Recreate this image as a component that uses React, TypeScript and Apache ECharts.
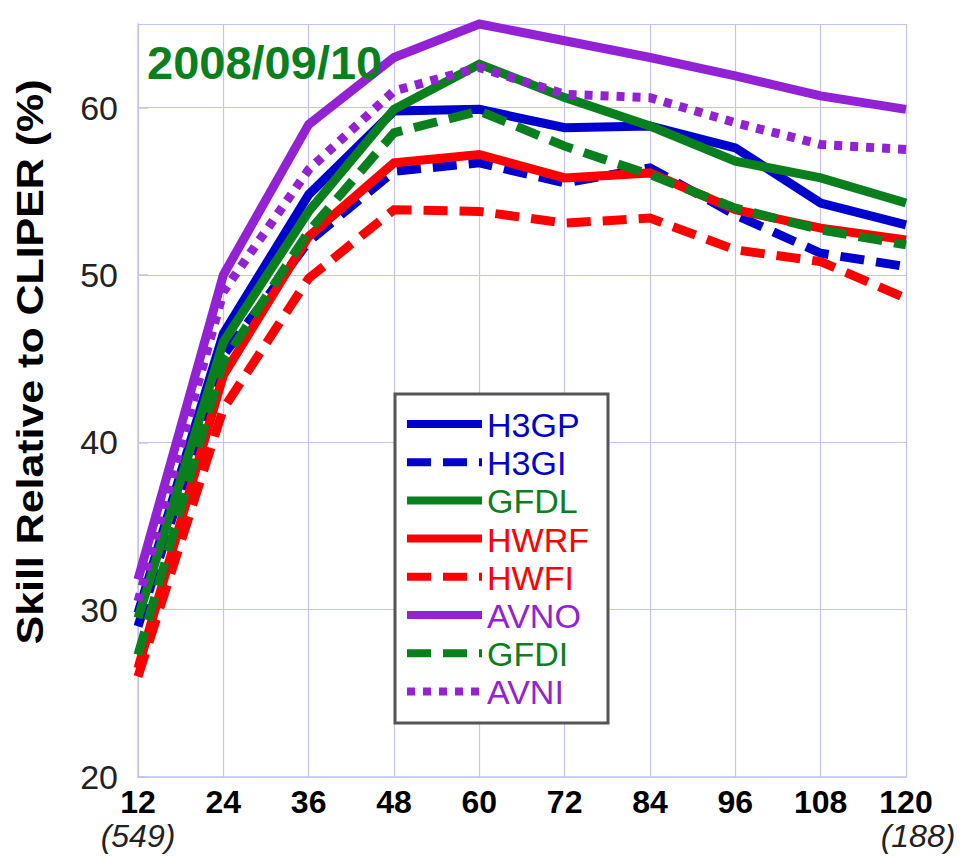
import React, { useEffect, useRef } from "react";
import * as echarts from "echarts";

const hours = [12, 24, 36, 48, 60, 72, 84, 96, 108, 120];
const seriesNames = ["H3GP", "H3GI", "GFDL", "HWRF", "HWFI", "AVNO", "GFDI", "AVNI"];
const H3GP = [29.8, 46.5, 54.8, 59.8, 59.9, 58.8, 58.9, 57.6, 54.3, 53.0];
const H3GI = [29.0, 45.2, 52.0, 56.2, 56.7, 55.5, 56.4, 53.6, 51.3, 50.5];
const GFDL = [29.5, 46.0, 53.8, 59.9, 62.6, 60.6, 58.9, 56.8, 55.8, 54.3];
const HWRF = [26.5, 44.0, 52.3, 56.7, 57.2, 55.8, 56.1, 53.9, 52.8, 52.1];
const HWFI = [26.0, 42.0, 49.8, 53.9, 53.8, 53.1, 53.4, 51.5, 50.8, 48.6];
const AVNO = [31.8, 50.0, 59.0, 63.0, 65.0, 64.0, 63.0, 61.9, 60.7, 59.9];
const GFDI = [27.3, 44.8, 52.6, 58.5, 59.8, 57.7, 56.0, 54.0, 52.7, 51.8];
const AVNI = [30.5, 49.0, 56.3, 61.0, 62.4, 60.8, 60.6, 59.1, 57.8, 57.5];
const seriesValues = [H3GP, H3GI, GFDL, HWRF, HWFI, AVNO, GFDI, AVNI];
const caseCounts: Record<number, string> = { 12: "(549)", 120: "(188)" };
const titleText = "2008/09/10";
const yAxisTitle = "Skill Relative to CLIPER (%)";

const BLUE = "#0000cc";
const GREEN = "#0a7f1e";
const RED = "#ff0000";
const PURPLE = "#9222d4";
const colors = [BLUE, BLUE, GREEN, RED, RED, PURPLE, GREEN, PURPLE];
const dashes: (number[] | null)[] = [null, [24, 12], null, null, [24, 12], null, [24, 12], [8, 8]];

const FONT = "'Liberation Sans', Arial, Helvetica, sans-serif";
const GRIDC = "#c4c4f4";

export default function App() {
  const ref = useRef<HTMLDivElement>(null);
  useEffect(() => {
    if (!ref.current) return;
    const chart = echarts.init(ref.current, undefined, { renderer: "svg" });
    const legendX = 395, legendY = 394, legendW = 213, legendH = 329;
    const rowY0 = 424, rowStep = 38.2;
    const legendEls: any[] = [
      {
        type: "rect",
        shape: { x: legendX, y: legendY, width: legendW, height: legendH },
        style: { fill: "#ffffff", stroke: "#555555", lineWidth: 3 },
        z: 100,
      },
    ];
    seriesNames.forEach((n, i) => {
      const y = rowY0 + i * rowStep;
      legendEls.push({
        type: "line",
        shape: { x1: 407, y1: y, x2: 482, y2: y },
        style: { stroke: colors[i], lineWidth: 8, lineDash: dashes[i] || undefined },
        z: 101,
      });
      legendEls.push({
        type: "text",
        x: 487,
        y: y + 1,
        style: {
          text: n,
          fill: colors[i],
          font: `34px ${FONT}`,
          textAlign: "left",
          textVerticalAlign: "middle",
        },
        z: 101,
      });
    });

    chart.setOption({
      animation: false,
      backgroundColor: "#ffffff",
      grid: { left: 138, right: 54, top: 24, bottom: 80 },
      xAxis: {
        type: "value",
        min: 12,
        max: 120,
        interval: 12,
        axisLine: { show: true, lineStyle: { color: GRIDC, width: 1.5 } },
        axisTick: { show: false },
        splitLine: { show: true, lineStyle: { color: GRIDC, width: 1.2 } },
        axisLabel: {
          margin: 8,
          formatter: (v: number) => {
            const c = caseCounts[v];
            if (c) return `{b|${v}}\n{${v === 120 ? "ir" : "i"}|${c}}`;
            return `{b|${v}}`;
          },
          rich: {
            b: { fontFamily: FONT, fontWeight: "bold", fontSize: 32, color: "#000", lineHeight: 34 },
            i: { fontFamily: FONT, fontStyle: "italic", fontSize: 32, color: "#222", lineHeight: 34 },
            ir: { fontFamily: FONT, fontStyle: "italic", fontSize: 32, color: "#222", lineHeight: 34, padding: [0, 0, 0, 24] },
          },
        },
      },
      yAxis: {
        type: "value",
        min: 20,
        max: 65,
        interval: 10,
        axisLine: { show: true, lineStyle: { color: GRIDC, width: 1.5 } },
        axisTick: { show: true, inside: true, length: 10, lineStyle: { color: GRIDC, width: 1.5 } },
        splitLine: { show: true, lineStyle: { color: GRIDC, width: 1.2 } },
        axisLabel: {
          margin: 20,
          showMaxLabel: false,
          fontFamily: FONT,
          fontSize: 34,
          color: "#222",
          formatter: (v: number) => (v % 10 === 0 ? String(v) : ""),
        },
      },
      series: seriesNames.map((n, i) => ({
        name: n,
        type: "line",
        data: hours.map((h, j) => [h, seriesValues[i][j]]),
        symbol: "none",
        clip: false,
        lineStyle: {
          color: colors[i],
          width: 9,
          type: dashes[i] || "solid",
          cap: "butt",
          join: "miter",
        },
        z: 2 + i,
      })),
      graphic: [
        {
          type: "text",
          x: 147,
          y: 62,
          style: {
            text: titleText,
            fill: GREEN,
            font: `bold 47px ${FONT}`,
            textAlign: "left",
            textVerticalAlign: "middle",
          },
          z: 50,
        },
        {
          type: "text",
          x: 30,
          y: 362,
          rotation: Math.PI / 2,
          scaleX: 1.16,
          style: {
            text: yAxisTitle,
            fill: "#000",
            font: `bold 37px ${FONT}`,
            textAlign: "center",
            textVerticalAlign: "middle",
          },
        },
        ...legendEls,
      ],
    });
    return () => chart.dispose();
  }, []);
  return (
    <div
      ref={ref}
      style={{ position: "fixed", left: 0, top: 0, width: 960, height: 857, background: "#fff" }}
    />
  );
}
